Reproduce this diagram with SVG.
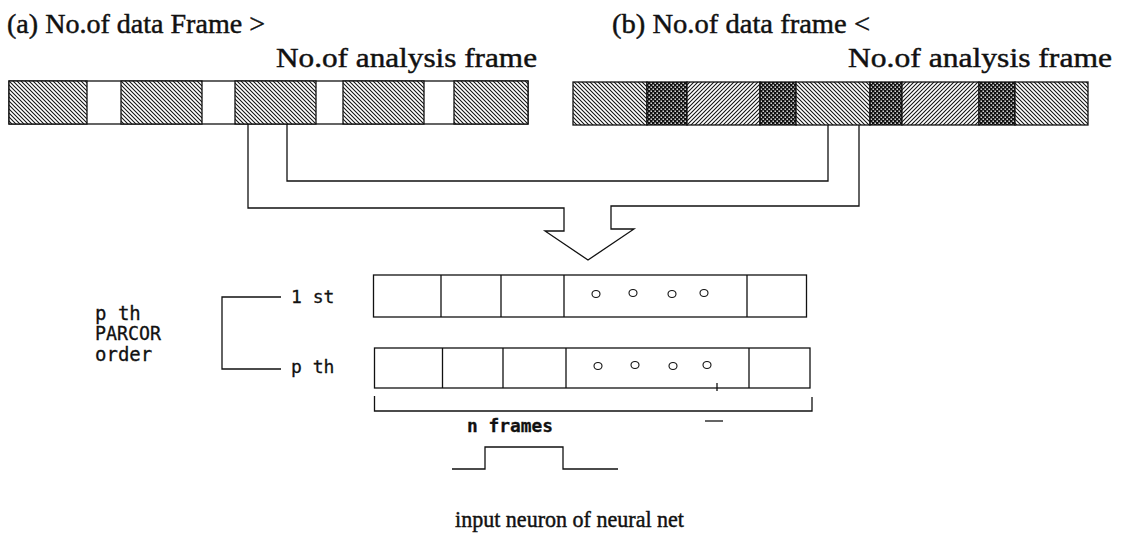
<svg xmlns="http://www.w3.org/2000/svg" width="1121" height="542" viewBox="0 0 1121 542">
  <style>
    .ln { fill: none; stroke: #111; stroke-width: 1.3; }
    .box { fill: #fff; stroke: #111; stroke-width: 1.3; }
    .serif { font-family: "Liberation Serif", "Times New Roman", serif; fill: #111; stroke: #111; stroke-width: 0.45; }
    .mono { font-family: "DejaVu Sans Mono", "Liberation Mono", monospace; fill: #111; stroke: #111; stroke-width: 0.3; }
    .dot { fill: #fff; stroke: #111; stroke-width: 1.1; }
    .seg { stroke: #111; stroke-width: 1.3; }
  </style>
  <defs>
    <!-- back-slash hatching -->
    <pattern id="hatchB" width="4" height="4" patternUnits="userSpaceOnUse">
      <rect width="4" height="4" fill="#fff"/>
      <path d="M-1,-1 L5,5 M-1,3 L1,5 M3,-1 L5,1" stroke="#111" stroke-width="1.05"/>
    </pattern>
    <!-- forward-slash hatching -->
    <pattern id="hatchF" width="4" height="4" patternUnits="userSpaceOnUse">
      <rect width="4" height="4" fill="#fff"/>
      <path d="M-1,5 L5,-1 M-1,1 L1,-1 M3,5 L5,3" stroke="#111" stroke-width="1.05"/>
    </pattern>
    <!-- dense dotted screen -->
    <pattern id="screen" width="4" height="4" patternUnits="userSpaceOnUse">
      <rect width="4" height="4" fill="#111"/>
      <rect x="0.5" y="0.5" width="1.4" height="1.4" fill="#fff"/>
      <rect x="2.5" y="2.5" width="1.4" height="1.4" fill="#fff"/>
    </pattern>
  </defs>

  <!-- headings -->
  <g id="label-a">
    <text class="serif" x="7" y="33" font-size="28" textLength="258" lengthAdjust="spacingAndGlyphs">(a) No.of data Frame &gt;</text>
    <text class="serif" x="276" y="67" font-size="28" textLength="261" lengthAdjust="spacingAndGlyphs">No.of analysis frame</text>
  </g>
  <g id="label-b">
    <text class="serif" x="612" y="33" font-size="28" textLength="258" lengthAdjust="spacingAndGlyphs">(b) No.of data frame &lt;</text>
    <text class="serif" x="848" y="67" font-size="28" textLength="264" lengthAdjust="spacingAndGlyphs">No.of analysis frame</text>
  </g>

  <!-- frame strip (a) -->
  <g id="strip-a">
    <rect class="box" x="9" y="81" width="519" height="43"/>
    <rect class="seg" x="9" y="81" width="78" height="43" fill="url(#hatchB)"/>
    <rect class="seg" x="121" y="81" width="81" height="43" fill="url(#hatchB)"/>
    <rect class="seg" x="235" y="81" width="81" height="43" fill="url(#hatchB)"/>
    <rect class="seg" x="343" y="81" width="81" height="43" fill="url(#hatchB)"/>
    <rect class="seg" x="454" y="81" width="74" height="43" fill="url(#hatchB)"/>
  </g>

  <!-- frame strip (b) -->
  <g id="strip-b">
    <rect class="seg" x="573" y="82" width="74" height="43" fill="url(#hatchB)"/>
    <rect class="seg" x="647" y="82" width="40" height="43" fill="url(#screen)"/>
    <rect class="seg" x="687" y="82" width="73" height="43" fill="url(#hatchF)"/>
    <rect class="seg" x="760" y="82" width="36" height="43" fill="url(#screen)"/>
    <rect class="seg" x="796" y="82" width="74" height="43" fill="url(#hatchB)"/>
    <rect class="seg" x="870" y="82" width="32" height="43" fill="url(#screen)"/>
    <rect class="seg" x="902" y="82" width="77" height="43" fill="url(#hatchF)"/>
    <rect class="seg" x="979" y="82" width="36" height="43" fill="url(#screen)"/>
    <rect class="seg" x="1015" y="82" width="73" height="43" fill="url(#hatchB)"/>
  </g>

  <!-- feed lines merging into the open arrow -->
  <g id="connectors">
    <path class="ln" d="M248,124 V208 H564 V231 H545 L588,260 L634,229 H611 V206 H859 V125"/>
    <path class="ln" d="M287,124 V181 H828 V125"/>
  </g>

  <!-- PARCOR order bracket -->
  <g id="order-label">
    <text class="mono" x="95" y="320" font-size="19">p th</text>
    <text class="mono" x="95" y="340" font-size="19" textLength="66" lengthAdjust="spacingAndGlyphs">PARCOR</text>
    <text class="mono" x="95" y="361" font-size="19">order</text>
    <path class="ln" d="M281,297 H222 V369 H281"/>
    <text class="mono" x="291" y="303" font-size="18">1 st</text>
    <text class="mono" x="291" y="373" font-size="18">p th</text>
  </g>

  <!-- coefficient rows -->
  <g id="row-1">
    <rect class="box" x="373.5" y="275" width="433" height="42"/>
    <path class="ln" d="M441,275 V317 M501,275 V317 M564,275 V317 M747,275 V317"/>
    <ellipse class="dot" cx="596" cy="294" rx="4" ry="3.5"/>
    <ellipse class="dot" cx="633" cy="293" rx="4" ry="3.5"/>
    <ellipse class="dot" cx="672" cy="294" rx="4" ry="3.5"/>
    <ellipse class="dot" cx="704" cy="293" rx="4" ry="3.5"/>
  </g>
  <g id="row-p">
    <rect class="box" x="374.5" y="348" width="435.5" height="40"/>
    <path class="ln" d="M442.5,348 V388 M503,348 V388 M566,348 V388 M749,348 V388"/>
    <ellipse class="dot" cx="598" cy="366" rx="4" ry="3.5"/>
    <ellipse class="dot" cx="635" cy="365" rx="4" ry="3.5"/>
    <ellipse class="dot" cx="673" cy="366" rx="4" ry="3.5"/>
    <ellipse class="dot" cx="707" cy="365" rx="4" ry="3.5"/>
    <path class="ln" d="M717,383 V391"/>
  </g>

  <!-- n frames span -->
  <g id="span">
    <path class="ln" d="M374.5,396 V411 H812 V397"/>
    <path class="ln" d="M705,421 H723"/>
    <text class="mono" x="467" y="432" font-size="18" font-weight="bold" textLength="86" lengthAdjust="spacingAndGlyphs">n frames</text>
  </g>

  <!-- input neuron pulse -->
  <g id="neuron">
    <path class="ln" d="M452,469 H485 V447 H563 V469 H618"/>
    <text class="serif" x="455" y="527" font-size="24" stroke-width="0.8" textLength="229" lengthAdjust="spacingAndGlyphs">input neuron of neural net</text>
  </g>
</svg>
